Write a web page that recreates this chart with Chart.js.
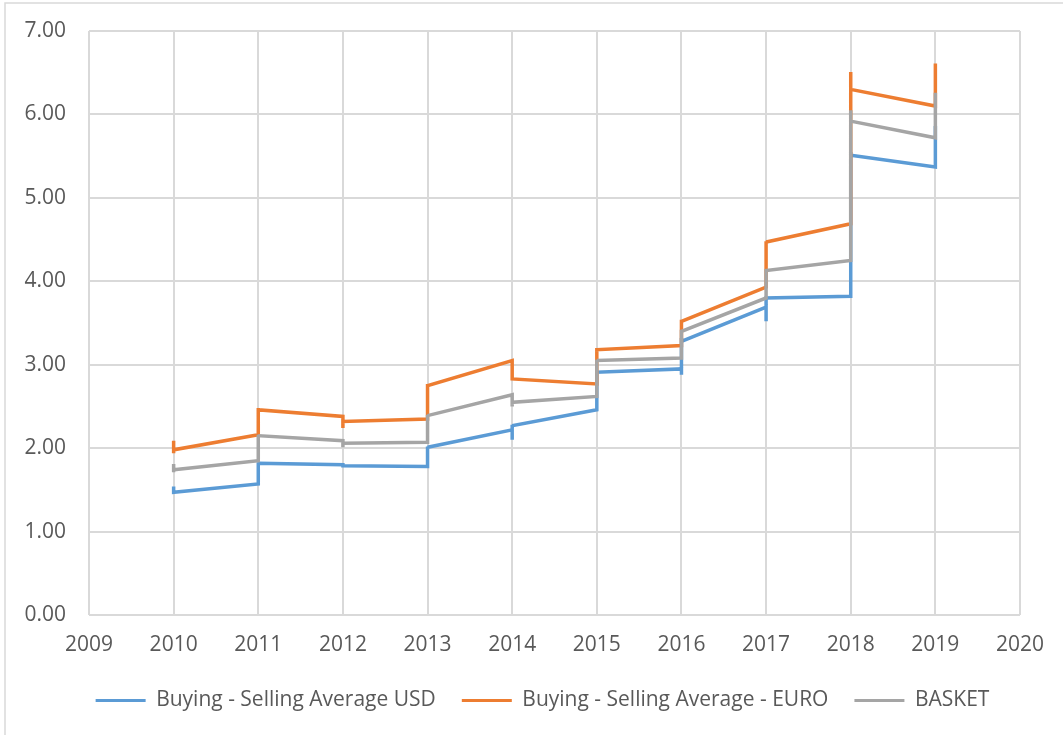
<!DOCTYPE html>
<html lang="en">
<head>
    <meta charset="utf-8" />
    <title>Exchange rates</title>
    <script src="https://cdn.jsdelivr.net/npm/chart.js"></script>
    <style>
        html, body {
            margin: 0;
            padding: 0;
            background: #fff;
        }
        #chartBox {
            width: 1063px;
            height: 735px;
        }
    </style>
</head>
<body>
    <div id="chartBox">
        <canvas id="rateChart" width="1063" height="735"></canvas>
    </div>
    <script>
        // one entry per year, each holding the values plotted at that year (in drawing order)
        var years = [2010, 2011, 2012, 2013, 2014, 2015, 2016, 2017, 2018, 2019];
        var usdValues = [
            [1.54, 1.46, 1.47],
            [1.57, 1.83, 1.82],
            [1.80, 1.79],
            [1.78, 2.02, 2.01],
            [2.22, 2.28, 2.10, 2.27],
            [2.46, 2.92, 2.91],
            [2.95, 2.88, 3.32, 3.28],
            [3.69, 3.52, 3.80],
            [3.82, 5.55, 5.51],
            [5.37, 5.86]
        ];
        var euroValues = [
            [2.09, 1.94, 1.98],
            [2.16, 2.48, 2.46],
            [2.38, 2.24, 2.32],
            [2.35, 2.77, 2.75],
            [3.05, 2.81, 2.83],
            [2.77, 3.20, 3.18],
            [3.23, 3.54, 3.52],
            [3.93, 4.48, 4.47],
            [4.69, 6.51, 6.30],
            [6.10, 6.61]
        ];
        var basketValues = [
            [1.81, 1.71, 1.74],
            [1.85, 2.16, 2.15],
            [2.09, 2.01, 2.06],
            [2.07, 2.40, 2.39],
            [2.64, 2.50, 2.55],
            [2.62, 3.06, 3.05],
            [3.08, 3.42, 3.40],
            [3.80, 4.13, 4.13],
            [4.25, 6.05, 5.92],
            [5.72, 6.26]
        ];
        var seriesNames = ['Buying - Selling Average USD', 'Buying - Selling Average - EURO', 'BASKET'];

        function toPoints(values) {
            var pts = [];
            values.forEach(function (list, i) {
                list.forEach(function (v) {
                    pts.push({ x: years[i], y: v });
                });
            });
            return pts;
        }

        var tickColor = '#595959';
        var gridColor = '#d9d9d9';
        var fontFamily = '"Open Sans", Lato, sans-serif';

        // light frame round the whole chart, like the spreadsheet chart area
        var frame = {
            id: 'frame',
            beforeDraw: function (chart) {
                var ctx = chart.ctx;
                ctx.save();
                ctx.fillStyle = '#fff';
                ctx.fillRect(0, 0, chart.width, chart.height);
                ctx.strokeStyle = gridColor;
                ctx.lineWidth = 1.5;
                ctx.strokeRect(5, 3, 1200, 900);
                ctx.restore();
            }
        };

        function line(label, values, color, order) {
            return {
                label: label,
                data: toPoints(values),
                borderColor: color,
                backgroundColor: color,
                borderWidth: 3.5,
                pointRadius: 0,
                showLine: true,
                tension: 0,
                order: order
            };
        }

        var ctx = document.getElementById('rateChart').getContext('2d');
        var rateChart = new Chart(ctx, {
            type: 'scatter',
            data: {
                datasets: [
                    line(seriesNames[0], usdValues, '#5b9bd5', 2),
                    line(seriesNames[1], euroValues, '#ed7d31', 1),
                    line(seriesNames[2], basketValues, '#a5a5a5', 0)
                ]
            },
            plugins: [frame],
            options: {
                responsive: false,
                animation: false,
                layout: {
                    padding: { left: 22, top: 31, right: 0, bottom: 14 }
                },
                scales: {
                    x: {
                        type: 'linear',
                        min: 2009,
                        max: 2020,
                        afterFit: function (s) { s.height = 49; },
                        border: { display: false },
                        grid: { color: gridColor, lineWidth: 2, drawTicks: false },
                        ticks: {
                            stepSize: 1,
                            padding: 17,
                            color: tickColor,
                            font: { family: fontFamily, size: 21 },
                            callback: function (v) { return String(v); }
                        }
                    },
                    y: {
                        min: 0,
                        max: 7,
                        afterFit: function (s) {
                            s.width = 67;
                            s.paddingTop = 0;
                            s.paddingBottom = 0;
                        },
                        border: { display: false },
                        grid: { color: gridColor, lineWidth: 2, drawTicks: false },
                        ticks: {
                            stepSize: 1,
                            padding: 23,
                            color: tickColor,
                            font: { family: fontFamily, size: 21 },
                            callback: function (v) { return v.toFixed(2); }
                        }
                    },
                    // empty right-hand axis, only keeps the margin on the right
                    yRight: {
                        position: 'right',
                        min: 0,
                        max: 7,
                        afterFit: function (s) {
                            s.width = 43;
                            s.paddingTop = 0;
                            s.paddingBottom = 0;
                        },
                        border: { display: false },
                        grid: { display: false },
                        ticks: { display: false }
                    }
                },
                plugins: {
                    tooltip: { enabled: false },
                    legend: {
                        position: 'bottom',
                        labels: {
                            boxWidth: 50,
                            boxHeight: 3,
                            padding: 26,
                            color: tickColor,
                            font: { family: fontFamily, size: 21 },
                            sort: function (a, b) { return a.datasetIndex - b.datasetIndex; },
                            generateLabels: function (chart) {
                                var items = Chart.defaults.plugins.legend.labels.generateLabels(chart);
                                items.forEach(function (it) { it.lineWidth = 0; });
                                return items;
                            }
                        }
                    }
                }
            }
        });
    </script>
</body>
</html>
